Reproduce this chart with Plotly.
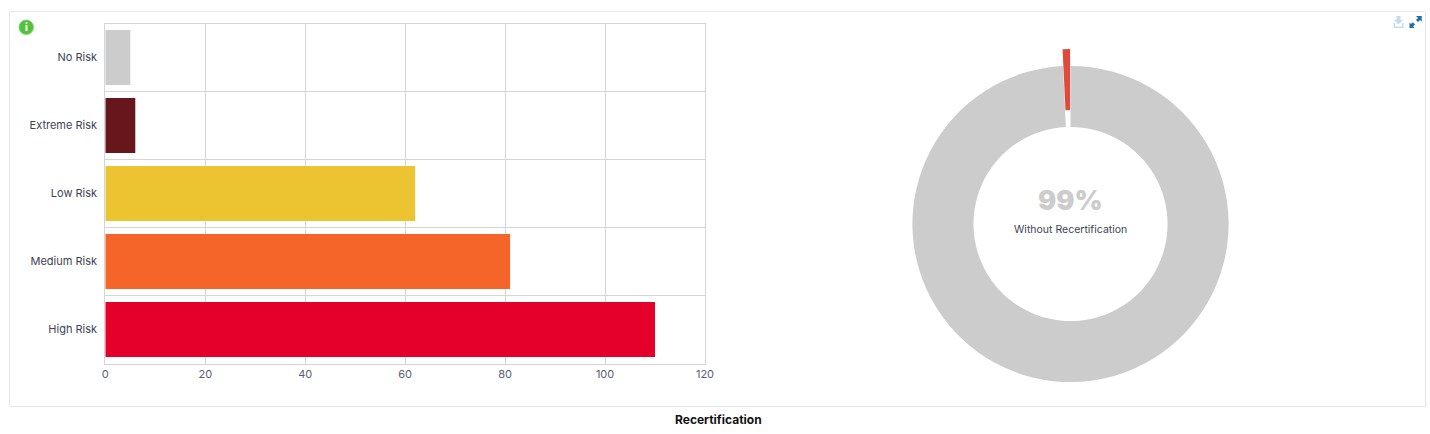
import plotly.graph_objects as go

WIDTH = 1430
HEIGHT = 434

# bars, top to bottom
risk_labels = ["No Risk", "Extreme Risk", "Low Risk", "Medium Risk", "High Risk"]
risk_counts = [5, 6, 62, 81, 110]
risk_colors = ["#cccccc", "#67171b", "#ecc431", "#f56428", "#e4002b"]

# donut
recert_labels = ["Without Recertification", "With Recertification"]
recert_counts = [262, 2]
recert_colors = ["#cccccc", "#e04a3a"]
recert_pull = [0, 0.107]

x_ticks = [0, 20, 40, 60, 80, 100, 120]


def px(x):
    return x / WIDTH


def py(y):
    return 1 - y / HEIGHT


def path(points):
    # pixel points to a closed svg path in paper coords
    parts = [f"{px(x):.5f},{py(y):.5f}" for x, y in points]
    return "M" + " L".join(parts) + " Z"


fig = go.Figure()

fig.add_trace(go.Bar(
    x=risk_counts,
    y=risk_labels,
    orientation="h",
    width=0.81,
    marker=dict(color=risk_colors, line=dict(width=0)),
    showlegend=False,
))

fig.add_trace(go.Pie(
    labels=recert_labels,
    values=recert_counts,
    hole=0.614,
    sort=False,
    direction="clockwise",
    rotation=0,
    pull=recert_pull,
    marker=dict(colors=recert_colors, line=dict(width=0)),
    textinfo="none",
    showlegend=False,
    domain=dict(x=[px(895.5), px(1245.5)], y=[py(399), py(49)]),
))

shapes = [
    # outer card
    dict(type="rect", xref="paper", yref="paper", x0=px(9.5), x1=px(1425.5), y0=py(406.5), y1=py(11.5),
         line=dict(color="#e6e6e6", width=1), layer="below"),
    # info dot
    dict(type="circle", xref="paper", yref="paper", x0=px(19), x1=px(33.5), y0=py(34.5), y1=py(20),
         fillcolor="#52c23c", line=dict(color="#7fd56d", width=1)),
    # download icon
    dict(type="path", xref="paper", yref="paper", fillcolor="#c6dcec", line=dict(width=0),
         path=path([(1396.5, 16), (1400.5, 16), (1400.5, 20), (1403, 20), (1398.5, 24.5), (1394, 20), (1396.5, 20)])),
    dict(type="path", xref="paper", yref="paper", fillcolor="#c6dcec", line=dict(width=0),
         path=path([(1393.5, 23), (1395, 23), (1395, 26.5), (1402, 26.5), (1402, 23), (1403.5, 23),
                    (1403.5, 28), (1393.5, 28)])),
    # expand icon
    dict(type="path", xref="paper", yref="paper", fillcolor="#1c6ea4", line=dict(width=0),
         path=path([(1416, 16), (1421.7, 16), (1421.7, 21.7), (1420, 20), (1418, 22), (1416, 20), (1418, 18)])),
    dict(type="path", xref="paper", yref="paper", fillcolor="#1c6ea4", line=dict(width=0),
         path=path([(1409.5, 22.5), (1411, 24), (1412.8, 22.3), (1415, 24.5), (1413, 26.2), (1414.7, 28),
                    (1409.5, 28)])),
]

annotations = [
    dict(text="99%", x=px(1070), y=py(200), font=dict(family="Inter", size=27, color="#cccccc", weight=900)),
    dict(text="Without Recertification", x=px(1070), y=py(229), font=dict(family="Inter", size=10.5, color="#3d4255")),
    dict(text="Recertification", x=px(718), y=py(419), font=dict(family="Inter", size=12, color="#111111", weight=700)),
    dict(text="i", x=px(26.2), y=py(27.3), font=dict(family="Inter", size=10, color="#ffffff", weight=800)),
]
for a in annotations:
    a.update(xref="paper", yref="paper", showarrow=False, xanchor="center", yanchor="middle")

fig.update_layout(
    width=WIDTH,
    height=HEIGHT,
    margin=dict(l=0, r=0, t=0, b=0),
    paper_bgcolor="#ffffff",
    plot_bgcolor="#ffffff",
    font=dict(family="Inter", size=11, color="#3d4255"),
    shapes=shapes,
    annotations=annotations,
    xaxis=dict(
        domain=[px(105.3), px(705)],
        range=[0, 120],
        tickvals=x_ticks,
        automargin=False,
        showgrid=True,
        gridcolor="#d5d5d5",
        gridwidth=1,
        zeroline=False,
        showline=True,
        linecolor="#d5d5d5",
        linewidth=1,
        mirror=True,
        ticks="",
        tickfont=dict(size=11, color="#5a6072"),
    ),
    yaxis=dict(
        domain=[py(363.5), py(23.5)],
        type="category",
        categoryorder="array",
        categoryarray=risk_labels[::-1],
        tickson="boundaries",
        automargin=False,
        showgrid=True,
        gridcolor="#d5d5d5",
        gridwidth=1,
        showline=True,
        linecolor="#d5d5d5",
        linewidth=1,
        mirror=True,
        ticks="",
        tickfont=dict(size=11, color="#3d4255"),
        ticklabelstandoff=5,
    ),
)

fig.write_html("out.html", config=dict(displayModeBar=False), post_script="document.body.style.margin='0';")
